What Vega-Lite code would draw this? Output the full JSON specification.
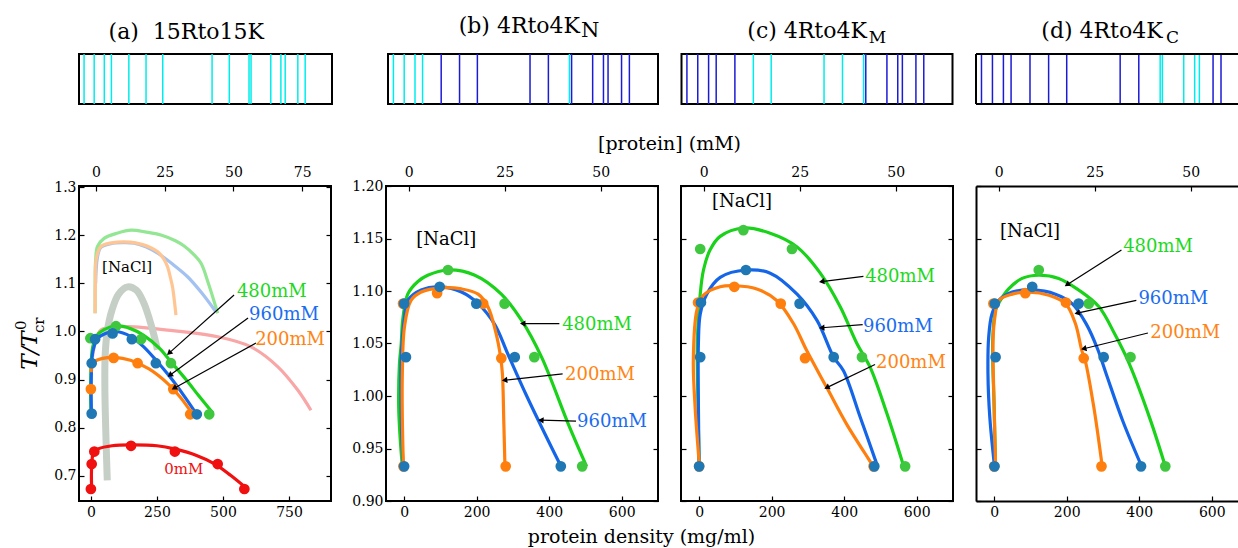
{
 "$schema": "https://vega.github.io/schema/vega-lite/v6.json",
 "background": "#ffffff",
 "padding": {"left": 13, "top": 14, "right": 0, "bottom": 0},
 "config": {
  "font": "DejaVu Serif",
  "view": {"stroke": "#000000", "strokeWidth": 2},
  "axis": {"grid": false, "domain": false, "labelFont": "DejaVu Serif", "labelFontSize": 14, "labelColor": "#000000", "tickColor": "#000000", "tickWidth": 1.2, "tickSize": -5, "labelFlush": false, "labelOverlap": false, "titleFont": "DejaVu Serif", "titleFontWeight": "normal", "titleColor": "#000000"}
 },
 "datasets": {
  "strips": [
   {"strip":"a","pos":0.020,"res":"K"},{"strip":"a","pos":0.060,"res":"K"},{"strip":"a","pos":0.100,"res":"K"},{"strip":"a","pos":0.128,"res":"K"},{"strip":"a","pos":0.197,"res":"K"},{"strip":"a","pos":0.265,"res":"K"},{"strip":"a","pos":0.331,"res":"K"},{"strip":"a","pos":0.526,"res":"K"},{"strip":"a","pos":0.594,"res":"K"},{"strip":"a","pos":0.672,"res":"K"},{"strip":"a","pos":0.680,"res":"K"},{"strip":"a","pos":0.758,"res":"K"},{"strip":"a","pos":0.798,"res":"K"},{"strip":"a","pos":0.815,"res":"K"},{"strip":"a","pos":0.865,"res":"K"},{"strip":"a","pos":0.894,"res":"K"},
   {"strip":"b","pos":0.020,"res":"K"},{"strip":"b","pos":0.060,"res":"K"},{"strip":"b","pos":0.100,"res":"K"},{"strip":"b","pos":0.128,"res":"K"},{"strip":"b","pos":0.197,"res":"R"},{"strip":"b","pos":0.265,"res":"R"},{"strip":"b","pos":0.331,"res":"R"},{"strip":"b","pos":0.526,"res":"R"},{"strip":"b","pos":0.594,"res":"R"},{"strip":"b","pos":0.672,"res":"K"},{"strip":"b","pos":0.680,"res":"R"},{"strip":"b","pos":0.758,"res":"R"},{"strip":"b","pos":0.798,"res":"R"},{"strip":"b","pos":0.815,"res":"R"},{"strip":"b","pos":0.865,"res":"R"},{"strip":"b","pos":0.894,"res":"R"},
   {"strip":"c","pos":0.020,"res":"R"},{"strip":"c","pos":0.060,"res":"R"},{"strip":"c","pos":0.100,"res":"R"},{"strip":"c","pos":0.128,"res":"R"},{"strip":"c","pos":0.197,"res":"R"},{"strip":"c","pos":0.265,"res":"K"},{"strip":"c","pos":0.331,"res":"K"},{"strip":"c","pos":0.526,"res":"K"},{"strip":"c","pos":0.594,"res":"K"},{"strip":"c","pos":0.672,"res":"K"},{"strip":"c","pos":0.680,"res":"R"},{"strip":"c","pos":0.758,"res":"R"},{"strip":"c","pos":0.798,"res":"R"},{"strip":"c","pos":0.815,"res":"R"},{"strip":"c","pos":0.865,"res":"R"},{"strip":"c","pos":0.894,"res":"R"},
   {"strip":"d","pos":0.020,"res":"R"},{"strip":"d","pos":0.060,"res":"R"},{"strip":"d","pos":0.100,"res":"R"},{"strip":"d","pos":0.128,"res":"R"},{"strip":"d","pos":0.197,"res":"R"},{"strip":"d","pos":0.265,"res":"R"},{"strip":"d","pos":0.331,"res":"R"},{"strip":"d","pos":0.526,"res":"R"},{"strip":"d","pos":0.594,"res":"R"},{"strip":"d","pos":0.672,"res":"K"},{"strip":"d","pos":0.680,"res":"K"},{"strip":"d","pos":0.758,"res":"K"},{"strip":"d","pos":0.798,"res":"K"},{"strip":"d","pos":0.815,"res":"K"},{"strip":"d","pos":0.865,"res":"R"},{"strip":"d","pos":0.894,"res":"R"}
  ],
  "titles": [
   {"strip":"a","part":"main","t":"(a)\u00a0 15Rto15K","x":0.731,"y":1.30},
   {"strip":"b","part":"main","t":"(b) 4Rto4K","x":0.711,"y":1.42},
   {"strip":"b","part":"sub","t":"N","x":0.715,"y":1.34},
   {"strip":"c","part":"main","t":"(c) 4Rto4K","x":0.684,"y":1.32},
   {"strip":"c","part":"sub","t":"M","x":0.691,"y":1.22},
   {"strip":"d","part":"main","t":"(d) 4Rto4K","x":0.681,"y":1.32},
   {"strip":"d","part":"sub","t":"C","x":0.693,"y":1.22}
  ],
  "edges": [{"v":0},{"v":1}],
  "mm": [{"mM":0}],
  "ylab": [{"t":"0","x":-264,"y":1.013},{"t":"cr","x":-196,"y":1.013}],
  "faded": [
   {"s":"480mM","i":1,"x":16,"y":1.038},{"s":"480mM","i":2,"x":16,"y":1.10},{"s":"480mM","i":3,"x":18,"y":1.149},{"s":"480mM","i":4,"x":25,"y":1.177},{"s":"480mM","i":5,"x":50,"y":1.194},{"s":"480mM","i":6,"x":101,"y":1.205},{"s":"480mM","i":7,"x":152,"y":1.211},{"s":"480mM","i":8,"x":210,"y":1.207},{"s":"480mM","i":9,"x":265,"y":1.201},{"s":"480mM","i":10,"x":320,"y":1.189},{"s":"480mM","i":11,"x":353,"y":1.178},{"s":"480mM","i":12,"x":390,"y":1.16},{"s":"480mM","i":13,"x":417,"y":1.142},{"s":"480mM","i":14,"x":445,"y":1.10},{"s":"480mM","i":15,"x":480,"y":1.038},
   {"s":"960mM","i":1,"x":18,"y":1.10},{"s":"960mM","i":2,"x":25,"y":1.155},{"s":"960mM","i":3,"x":38,"y":1.175},{"s":"960mM","i":4,"x":76,"y":1.183},{"s":"960mM","i":5,"x":120,"y":1.185},{"s":"960mM","i":6,"x":164,"y":1.184},{"s":"960mM","i":7,"x":210,"y":1.176},{"s":"960mM","i":8,"x":253,"y":1.163},{"s":"960mM","i":9,"x":310,"y":1.14},{"s":"960mM","i":10,"x":366,"y":1.114},{"s":"960mM","i":11,"x":420,"y":1.08},{"s":"960mM","i":12,"x":473,"y":1.041},
   {"s":"200mM","i":1,"x":16,"y":1.038},{"s":"200mM","i":2,"x":17,"y":1.10},{"s":"200mM","i":3,"x":20,"y":1.15},{"s":"200mM","i":4,"x":38,"y":1.177},{"s":"200mM","i":5,"x":101,"y":1.186},{"s":"200mM","i":6,"x":150,"y":1.186},{"s":"200mM","i":7,"x":189,"y":1.182},{"s":"200mM","i":8,"x":225,"y":1.175},{"s":"200mM","i":9,"x":253,"y":1.166},{"s":"200mM","i":10,"x":275,"y":1.152},{"s":"200mM","i":11,"x":290,"y":1.135},{"s":"200mM","i":12,"x":302,"y":1.11},{"s":"200mM","i":13,"x":309,"y":1.093},{"s":"200mM","i":14,"x":322,"y":1.034},
   {"s":"0mM","i":1,"x":6,"y":0.948},{"s":"0mM","i":2,"x":19,"y":0.982},{"s":"0mM","i":3,"x":38,"y":1.003},{"s":"0mM","i":4,"x":80,"y":1.009},{"s":"0mM","i":5,"x":139,"y":1.01},{"s":"0mM","i":6,"x":290,"y":1.003},{"s":"0mM","i":7,"x":480,"y":0.989},{"s":"0mM","i":8,"x":606,"y":0.968},{"s":"0mM","i":9,"x":707,"y":0.927},{"s":"0mM","i":10,"x":783,"y":0.878},{"s":"0mM","i":11,"x":833,"y":0.836},
   {"s":"gray","i":1,"x":62,"y":0.69},{"s":"gray","i":2,"x":57,"y":0.78},{"s":"gray","i":3,"x":53,"y":0.88},{"s":"gray","i":4,"x":54,"y":0.95},{"s":"gray","i":5,"x":62,"y":1.0},{"s":"gray","i":6,"x":80,"y":1.045},{"s":"gray","i":7,"x":105,"y":1.078},{"s":"gray","i":8,"x":139,"y":1.093},{"s":"gray","i":9,"x":172,"y":1.086},{"s":"gray","i":10,"x":200,"y":1.06},{"s":"gray","i":11,"x":222,"y":1.025},{"s":"gray","i":12,"x":240,"y":0.99},{"s":"gray","i":13,"x":252,"y":0.962}
  ],
  "curves": [
   {"p":"a","s":"480mM","i":1,"x":0,"y":0.83},{"p":"a","s":"480mM","i":2,"x":-1,"y":0.88},{"p":"a","s":"480mM","i":3,"x":1,"y":0.93},{"p":"a","s":"480mM","i":4,"x":6,"y":0.965},{"p":"a","s":"480mM","i":5,"x":20,"y":0.99},{"p":"a","s":"480mM","i":6,"x":50,"y":1.004},{"p":"a","s":"480mM","i":7,"x":95,"y":1.012},{"p":"a","s":"480mM","i":8,"x":150,"y":1.006},{"p":"a","s":"480mM","i":9,"x":200,"y":0.992},{"p":"a","s":"480mM","i":10,"x":260,"y":0.965},{"p":"a","s":"480mM","i":11,"x":303,"y":0.937},{"p":"a","s":"480mM","i":12,"x":360,"y":0.9},{"p":"a","s":"480mM","i":13,"x":410,"y":0.865},{"p":"a","s":"480mM","i":14,"x":462,"y":0.83},
   {"p":"a","s":"960mM","i":1,"x":2,"y":0.83},{"p":"a","s":"960mM","i":2,"x":1,"y":0.88},{"p":"a","s":"960mM","i":3,"x":3,"y":0.93},{"p":"a","s":"960mM","i":4,"x":8,"y":0.96},{"p":"a","s":"960mM","i":5,"x":25,"y":0.985},{"p":"a","s":"960mM","i":6,"x":60,"y":0.997},{"p":"a","s":"960mM","i":7,"x":95,"y":1.0},{"p":"a","s":"960mM","i":8,"x":150,"y":0.99},{"p":"a","s":"960mM","i":9,"x":200,"y":0.968},{"p":"a","s":"960mM","i":10,"x":250,"y":0.938},{"p":"a","s":"960mM","i":11,"x":300,"y":0.905},{"p":"a","s":"960mM","i":12,"x":350,"y":0.868},{"p":"a","s":"960mM","i":13,"x":400,"y":0.828},
   {"p":"a","s":"200mM","i":1,"x":1,"y":0.915},{"p":"a","s":"200mM","i":2,"x":4,"y":0.93},{"p":"a","s":"200mM","i":3,"x":15,"y":0.938},{"p":"a","s":"200mM","i":4,"x":45,"y":0.944},{"p":"a","s":"200mM","i":5,"x":90,"y":0.946},{"p":"a","s":"200mM","i":6,"x":150,"y":0.94},{"p":"a","s":"200mM","i":7,"x":220,"y":0.922},{"p":"a","s":"200mM","i":8,"x":290,"y":0.892},{"p":"a","s":"200mM","i":9,"x":340,"y":0.862},{"p":"a","s":"200mM","i":10,"x":385,"y":0.828},
   {"p":"a","s":"0mM","i":1,"x":3,"y":0.672},{"p":"a","s":"0mM","i":2,"x":2,"y":0.7},{"p":"a","s":"0mM","i":3,"x":4,"y":0.73},{"p":"a","s":"0mM","i":4,"x":10,"y":0.748},{"p":"a","s":"0mM","i":5,"x":30,"y":0.756},{"p":"a","s":"0mM","i":6,"x":80,"y":0.762},{"p":"a","s":"0mM","i":7,"x":150,"y":0.764},{"p":"a","s":"0mM","i":8,"x":250,"y":0.762},{"p":"a","s":"0mM","i":9,"x":320,"y":0.755},{"p":"a","s":"0mM","i":10,"x":400,"y":0.742},{"p":"a","s":"0mM","i":11,"x":470,"y":0.724},{"p":"a","s":"0mM","i":12,"x":530,"y":0.7},{"p":"a","s":"0mM","i":13,"x":590,"y":0.673},
   {"p":"b","s":"480mM","i":1,"x":-5,"y":0.933},{"p":"b","s":"480mM","i":2,"x":-11,"y":0.96},{"p":"b","s":"480mM","i":3,"x":-15,"y":0.99},{"p":"b","s":"480mM","i":4,"x":-13,"y":1.03},{"p":"b","s":"480mM","i":5,"x":-8,"y":1.05},{"p":"b","s":"480mM","i":6,"x":-4,"y":1.072},{"p":"b","s":"480mM","i":7,"x":10,"y":1.097},{"p":"b","s":"480mM","i":8,"x":38,"y":1.109},{"p":"b","s":"480mM","i":9,"x":65,"y":1.115},{"p":"b","s":"480mM","i":10,"x":121,"y":1.12},{"p":"b","s":"480mM","i":11,"x":195,"y":1.115},{"p":"b","s":"480mM","i":12,"x":268,"y":1.097},{"p":"b","s":"480mM","i":13,"x":324,"y":1.072},{"p":"b","s":"480mM","i":14,"x":379,"y":1.037},{"p":"b","s":"480mM","i":15,"x":453,"y":0.973},{"p":"b","s":"480mM","i":16,"x":503,"y":0.933},
   {"p":"b","s":"960mM","i":1,"x":-3,"y":0.933},{"p":"b","s":"960mM","i":2,"x":-8,"y":0.98},{"p":"b","s":"960mM","i":3,"x":-8,"y":1.037},{"p":"b","s":"960mM","i":4,"x":1,"y":1.075},{"p":"b","s":"960mM","i":5,"x":10,"y":1.091},{"p":"b","s":"960mM","i":6,"x":47,"y":1.101},{"p":"b","s":"960mM","i":7,"x":102,"y":1.104},{"p":"b","s":"960mM","i":8,"x":158,"y":1.099},{"p":"b","s":"960mM","i":9,"x":204,"y":1.088},{"p":"b","s":"960mM","i":10,"x":250,"y":1.068},{"p":"b","s":"960mM","i":11,"x":286,"y":1.04},{"p":"b","s":"960mM","i":12,"x":338,"y":1.0},{"p":"b","s":"960mM","i":13,"x":408,"y":0.95},{"p":"b","s":"960mM","i":14,"x":437,"y":0.93},
   {"p":"b","s":"200mM","i":1,"x":-2,"y":0.933},{"p":"b","s":"200mM","i":2,"x":-5,"y":0.98},{"p":"b","s":"200mM","i":3,"x":-5,"y":1.021},{"p":"b","s":"200mM","i":4,"x":1,"y":1.066},{"p":"b","s":"200mM","i":5,"x":19,"y":1.091},{"p":"b","s":"200mM","i":6,"x":47,"y":1.099},{"p":"b","s":"200mM","i":7,"x":102,"y":1.103},{"p":"b","s":"200mM","i":8,"x":158,"y":1.102},{"p":"b","s":"200mM","i":9,"x":204,"y":1.097},{"p":"b","s":"200mM","i":10,"x":231,"y":1.085},{"p":"b","s":"200mM","i":11,"x":254,"y":1.059},{"p":"b","s":"200mM","i":12,"x":266,"y":1.037},{"p":"b","s":"200mM","i":13,"x":271,"y":1.021},{"p":"b","s":"200mM","i":14,"x":275,"y":0.973},{"p":"b","s":"200mM","i":15,"x":278,"y":0.933},
   {"p":"c","s":"480mM","i":1,"x":0,"y":0.933},{"p":"c","s":"480mM","i":2,"x":-3,"y":0.99},{"p":"c","s":"480mM","i":3,"x":-5,"y":1.053},{"p":"c","s":"480mM","i":4,"x":3,"y":1.097},{"p":"c","s":"480mM","i":5,"x":12,"y":1.12},{"p":"c","s":"480mM","i":6,"x":30,"y":1.139},{"p":"c","s":"480mM","i":7,"x":58,"y":1.152},{"p":"c","s":"480mM","i":8,"x":122,"y":1.16},{"p":"c","s":"480mM","i":9,"x":196,"y":1.155},{"p":"c","s":"480mM","i":10,"x":270,"y":1.142},{"p":"c","s":"480mM","i":11,"x":334,"y":1.117},{"p":"c","s":"480mM","i":12,"x":389,"y":1.085},{"p":"c","s":"480mM","i":13,"x":435,"y":1.05},{"p":"c","s":"480mM","i":14,"x":472,"y":1.027},{"p":"c","s":"480mM","i":15,"x":518,"y":0.983},{"p":"c","s":"480mM","i":16,"x":564,"y":0.933},
   {"p":"c","s":"960mM","i":1,"x":0,"y":0.933},{"p":"c","s":"960mM","i":2,"x":-2,"y":0.99},{"p":"c","s":"960mM","i":3,"x":-2,"y":1.05},{"p":"c","s":"960mM","i":4,"x":3,"y":1.078},{"p":"c","s":"960mM","i":5,"x":21,"y":1.097},{"p":"c","s":"960mM","i":6,"x":58,"y":1.113},{"p":"c","s":"960mM","i":7,"x":130,"y":1.12},{"p":"c","s":"960mM","i":8,"x":196,"y":1.117},{"p":"c","s":"960mM","i":9,"x":270,"y":1.097},{"p":"c","s":"960mM","i":10,"x":325,"y":1.072},{"p":"c","s":"960mM","i":11,"x":371,"y":1.037},{"p":"c","s":"960mM","i":12,"x":398,"y":1.024},{"p":"c","s":"960mM","i":13,"x":444,"y":0.98},{"p":"c","s":"960mM","i":14,"x":492,"y":0.933},
   {"p":"c","s":"200mM","i":1,"x":1,"y":0.933},{"p":"c","s":"200mM","i":2,"x":-11,"y":0.989},{"p":"c","s":"200mM","i":3,"x":-16,"y":1.034},{"p":"c","s":"200mM","i":4,"x":-6,"y":1.082},{"p":"c","s":"200mM","i":5,"x":12,"y":1.096},{"p":"c","s":"200mM","i":6,"x":58,"y":1.104},{"p":"c","s":"200mM","i":7,"x":99,"y":1.105},{"p":"c","s":"200mM","i":8,"x":159,"y":1.102},{"p":"c","s":"200mM","i":9,"x":214,"y":1.091},{"p":"c","s":"200mM","i":10,"x":260,"y":1.069},{"p":"c","s":"200mM","i":11,"x":297,"y":1.043},{"p":"c","s":"200mM","i":12,"x":352,"y":1.008},{"p":"c","s":"200mM","i":13,"x":407,"y":0.973},{"p":"c","s":"200mM","i":14,"x":458,"y":0.945},{"p":"c","s":"200mM","i":15,"x":486,"y":0.93},
   {"p":"d","s":"480mM","i":1,"x":4,"y":0.933},{"p":"d","s":"480mM","i":2,"x":0,"y":0.99},{"p":"d","s":"480mM","i":3,"x":-4,"y":1.053},{"p":"d","s":"480mM","i":4,"x":4,"y":1.082},{"p":"d","s":"480mM","i":5,"x":17,"y":1.091},{"p":"d","s":"480mM","i":6,"x":40,"y":1.102},{"p":"d","s":"480mM","i":7,"x":77,"y":1.112},{"p":"d","s":"480mM","i":8,"x":123,"y":1.115},{"p":"d","s":"480mM","i":9,"x":178,"y":1.112},{"p":"d","s":"480mM","i":10,"x":233,"y":1.101},{"p":"d","s":"480mM","i":11,"x":289,"y":1.085},{"p":"d","s":"480mM","i":12,"x":334,"y":1.058},{"p":"d","s":"480mM","i":13,"x":371,"y":1.032},{"p":"d","s":"480mM","i":14,"x":430,"y":0.978},{"p":"d","s":"480mM","i":15,"x":472,"y":0.933},
   {"p":"d","s":"960mM","i":1,"x":1,"y":0.933},{"p":"d","s":"960mM","i":2,"x":-12,"y":0.98},{"p":"d","s":"960mM","i":3,"x":-17,"y":1.021},{"p":"d","s":"960mM","i":4,"x":-15,"y":1.056},{"p":"d","s":"960mM","i":5,"x":-6,"y":1.078},{"p":"d","s":"960mM","i":6,"x":13,"y":1.091},{"p":"d","s":"960mM","i":7,"x":50,"y":1.099},{"p":"d","s":"960mM","i":8,"x":105,"y":1.101},{"p":"d","s":"960mM","i":9,"x":169,"y":1.097},{"p":"d","s":"960mM","i":10,"x":215,"y":1.088},{"p":"d","s":"960mM","i":11,"x":255,"y":1.068},{"p":"d","s":"960mM","i":12,"x":285,"y":1.045},{"p":"d","s":"960mM","i":13,"x":310,"y":1.02},{"p":"d","s":"960mM","i":14,"x":355,"y":0.976},{"p":"d","s":"960mM","i":15,"x":408,"y":0.932},
   {"p":"d","s":"200mM","i":1,"x":4,"y":0.933},{"p":"d","s":"200mM","i":2,"x":0,"y":0.99},{"p":"d","s":"200mM","i":3,"x":-3,"y":1.053},{"p":"d","s":"200mM","i":4,"x":2,"y":1.075},{"p":"d","s":"200mM","i":5,"x":13,"y":1.091},{"p":"d","s":"200mM","i":6,"x":50,"y":1.097},{"p":"d","s":"200mM","i":7,"x":96,"y":1.099},{"p":"d","s":"200mM","i":8,"x":151,"y":1.096},{"p":"d","s":"200mM","i":9,"x":197,"y":1.088},{"p":"d","s":"200mM","i":10,"x":224,"y":1.069},{"p":"d","s":"200mM","i":11,"x":242,"y":1.043},{"p":"d","s":"200mM","i":12,"x":251,"y":1.034},{"p":"d","s":"200mM","i":13,"x":275,"y":0.989},{"p":"d","s":"200mM","i":14,"x":298,"y":0.933}
  ],
  "points": [
   {"p":"a","s":"200mM","x":0,"y":0.88},{"p":"a","s":"200mM","x":86,"y":0.945},{"p":"a","s":"200mM","x":177,"y":0.934},{"p":"a","s":"200mM","x":312,"y":0.88},{"p":"a","s":"200mM","x":376,"y":0.8275},
   {"p":"a","s":"480mM","x":-2,"y":0.986},{"p":"a","s":"480mM","x":95,"y":1.011},{"p":"a","s":"480mM","x":190,"y":0.984},{"p":"a","s":"480mM","x":303,"y":0.934},{"p":"a","s":"480mM","x":448,"y":0.8275},
   {"p":"a","s":"960mM","x":3,"y":0.829},{"p":"a","s":"960mM","x":3,"y":0.934},{"p":"a","s":"960mM","x":16,"y":0.984},{"p":"a","s":"960mM","x":82,"y":0.996},{"p":"a","s":"960mM","x":155,"y":0.984},{"p":"a","s":"960mM","x":246,"y":0.934},{"p":"a","s":"960mM","x":401,"y":0.8275},
   {"p":"a","s":"0mM","x":0,"y":0.672},{"p":"a","s":"0mM","x":3,"y":0.724},{"p":"a","s":"0mM","x":13,"y":0.75},{"p":"a","s":"0mM","x":152,"y":0.762},{"p":"a","s":"0mM","x":318,"y":0.75},{"p":"a","s":"0mM","x":480,"y":0.724},{"p":"a","s":"0mM","x":581,"y":0.672},
   {"p":"b","s":"200mM","x":-3,"y":1.088},{"p":"b","s":"200mM","x":91,"y":1.098},{"p":"b","s":"200mM","x":218,"y":1.088},{"p":"b","s":"200mM","x":268,"y":1.036},{"p":"b","s":"200mM","x":280,"y":0.933},{"p":"b","s":"200mM","x":-2,"y":0.933},
   {"p":"b","s":"480mM","x":121,"y":1.12},{"p":"b","s":"480mM","x":277,"y":1.088},{"p":"b","s":"480mM","x":359,"y":1.037},{"p":"b","s":"480mM","x":491,"y":0.933},
   {"p":"b","s":"960mM","x":0,"y":1.088},{"p":"b","s":"960mM","x":98,"y":1.104},{"p":"b","s":"960mM","x":199,"y":1.088},{"p":"b","s":"960mM","x":305,"y":1.037},{"p":"b","s":"960mM","x":432,"y":0.933},{"p":"b","s":"960mM","x":5,"y":1.037},{"p":"b","s":"960mM","x":0,"y":0.933},
   {"p":"c","s":"200mM","x":-3,"y":1.089},{"p":"c","s":"200mM","x":97,"y":1.104},{"p":"c","s":"200mM","x":225,"y":1.088},{"p":"c","s":"200mM","x":292,"y":1.036},{"p":"c","s":"200mM","x":481,"y":0.933},{"p":"c","s":"200mM","x":0,"y":0.933},
   {"p":"c","s":"480mM","x":3,"y":1.14},{"p":"c","s":"480mM","x":122,"y":1.158},{"p":"c","s":"480mM","x":256,"y":1.14},{"p":"c","s":"480mM","x":449,"y":1.037},{"p":"c","s":"480mM","x":568,"y":0.933},
   {"p":"c","s":"960mM","x":5,"y":1.089},{"p":"c","s":"960mM","x":129,"y":1.12},{"p":"c","s":"960mM","x":277,"y":1.088},{"p":"c","s":"960mM","x":371,"y":1.037},{"p":"c","s":"960mM","x":483,"y":0.933},{"p":"c","s":"960mM","x":3,"y":1.037},{"p":"c","s":"960mM","x":0,"y":0.933},
   {"p":"d","s":"200mM","x":-2,"y":1.088},{"p":"d","s":"200mM","x":86,"y":1.098},{"p":"d","s":"200mM","x":198,"y":1.089},{"p":"d","s":"200mM","x":247,"y":1.036},{"p":"d","s":"200mM","x":296,"y":0.933},{"p":"d","s":"200mM","x":0,"y":0.933},
   {"p":"d","s":"480mM","x":123,"y":1.12},{"p":"d","s":"480mM","x":261,"y":1.088},{"p":"d","s":"480mM","x":376,"y":1.037},{"p":"d","s":"480mM","x":472,"y":0.933},
   {"p":"d","s":"960mM","x":2,"y":1.088},{"p":"d","s":"960mM","x":105,"y":1.104},{"p":"d","s":"960mM","x":233,"y":1.088},{"p":"d","s":"960mM","x":302,"y":1.037},{"p":"d","s":"960mM","x":405,"y":0.933},{"p":"d","s":"960mM","x":4,"y":1.037},{"p":"d","s":"960mM","x":1,"y":0.933}
  ],
  "labels": [
   {"p":"a","s":"480mM","t":"480mM","x":685,"y":1.082},{"p":"a","s":"960mM","t":"960mM","x":731,"y":1.034},{"p":"a","s":"200mM","t":"200mM","x":754,"y":0.982},{"p":"a","s":"0mM","t":"0mM","x":352,"y":0.713},{"p":"a","s":"NaCl","t":"[NaCl]","x":137,"y":1.134},
   {"p":"b","s":"480mM","t":"480mM","x":532,"y":1.068},{"p":"b","s":"200mM","t":"200mM","x":540,"y":1.020},{"p":"b","s":"960mM","t":"960mM","x":573,"y":0.975},{"p":"b","s":"NaCl","t":"[NaCl]","x":116,"y":1.149},
   {"p":"c","s":"480mM","t":"480mM","x":554,"y":1.113},{"p":"c","s":"960mM","t":"960mM","x":548,"y":1.066},{"p":"c","s":"200mM","t":"200mM","x":584,"y":1.031},{"p":"c","s":"NaCl","t":"[NaCl]","x":118,"y":1.185},
   {"p":"d","s":"480mM","t":"480mM","x":452,"y":1.142},{"p":"d","s":"960mM","t":"960mM","x":494,"y":1.092},{"p":"d","s":"200mM","t":"200mM","x":527,"y":1.060},{"p":"d","s":"NaCl","t":"[NaCl]","x":99,"y":1.156}
  ],
  "arrows": [
   {"p":"a","id":"480mM","x":542,"y":1.076,"x2":296,"y2":0.955,"heading":228},
   {"p":"a","id":"960mM","x":595,"y":1.028,"x2":299,"y2":0.909,"heading":234},
   {"p":"a","id":"200mM","x":625,"y":0.976,"x2":315,"y2":0.882,"heading":241},
   {"p":"b","id":"480mM","x":428,"y":1.069,"x2":327,"y2":1.069,"heading":270},
   {"p":"b","id":"200mM","x":437,"y":1.021,"x2":277,"y2":1.015,"heading":264},
   {"p":"b","id":"960mM","x":474,"y":0.976,"x2":377,"y2":0.977,"heading":273},
   {"p":"c","id":"480mM","x":453,"y":1.114,"x2":338,"y2":1.109,"heading":263},
   {"p":"c","id":"960mM","x":451,"y":1.068,"x2":338,"y2":1.065,"heading":267},
   {"p":"c","id":"200mM","x":485,"y":1.030,"x2":352,"y2":1.008,"heading":244},
   {"p":"d","id":"480mM","x":351,"y":1.139,"x2":201,"y2":1.106,"heading":237},
   {"p":"d","id":"960mM","x":392,"y":1.091,"x2":229,"y2":1.079,"heading":257},
   {"p":"d","id":"200mM","x":424,"y":1.060,"x2":247,"y2":1.045,"heading":257}
  ]
 },
 "spacing": 132,
 "bounds": "flush",
 "vconcat": [
  {
   "spacing": 56, "bounds": "flush",
   "hconcat": [
    {
     "width": 253, "height": 50,
     "layer": [
      {"data": {"name": "strips"}, "transform": [{"filter": "datum.strip === 'a'"}],
       "mark": {"type": "rule", "strokeWidth": 1.5},
       "encoding": {"x": {"field": "pos", "type": "quantitative", "scale": {"domain": [0, 1], "nice": false, "zero": false}, "axis": null},
        "color": {"field": "res", "type": "nominal", "scale": {"domain": ["K", "R"], "range": ["#00ecec", "#1b1bd4"]}, "legend": null}}},
      {"data": {"name": "titles"}, "transform": [{"filter": "datum.strip === 'a'"}],
       "mark": {"type": "text", "align": "right", "baseline": "alphabetic", "fontSize": 22, "color": "#000000"},
       "encoding": {"x": {"field": "x", "type": "quantitative", "scale": {"domain": [0, 1], "nice": false, "zero": false}, "axis": null},
        "y": {"field": "y", "type": "quantitative", "scale": {"domain": [0, 1], "nice": false, "zero": false}, "axis": null},
        "text": {"field": "t", "type": "nominal"}}}
     ]
    },
    {
     "spacing": 23.5, "bounds": "flush",
     "hconcat": [
      {
       "width": 270, "height": 50,
       "layer": [
        {"data": {"name": "strips"}, "transform": [{"filter": "datum.strip === 'b'"}],
         "mark": {"type": "rule", "strokeWidth": 1.5},
         "encoding": {"x": {"field": "pos", "type": "quantitative", "scale": {"domain": [0, 1], "nice": false, "zero": false}, "axis": null},
          "color": {"field": "res", "type": "nominal", "scale": {"domain": ["K", "R"], "range": ["#00ecec", "#1b1bd4"]}, "legend": null}}},
        {"data": {"name": "titles"}, "transform": [{"filter": "datum.strip === 'b' && datum.part === 'main'"}],
         "mark": {"type": "text", "align": "right", "baseline": "alphabetic", "fontSize": 22, "color": "#000000"},
         "encoding": {"x": {"field": "x", "type": "quantitative", "scale": {"domain": [0, 1], "nice": false, "zero": false}, "axis": null},
          "y": {"field": "y", "type": "quantitative", "scale": {"domain": [0, 1], "nice": false, "zero": false}, "axis": null},
          "text": {"field": "t", "type": "nominal"}}},
        {"data": {"name": "titles"}, "transform": [{"filter": "datum.strip === 'b' && datum.part === 'sub'"}],
         "mark": {"type": "text", "align": "left", "baseline": "alphabetic", "fontSize": 21, "color": "#000000"},
         "encoding": {"x": {"field": "x", "type": "quantitative", "scale": {"domain": [0, 1], "nice": false, "zero": false}, "axis": null},
          "y": {"field": "y", "type": "quantitative", "scale": {"domain": [0, 1], "nice": false, "zero": false}, "axis": null},
          "text": {"field": "t", "type": "nominal"}}}
       ]
      },
      {
       "width": 271, "height": 50,
       "layer": [
        {"data": {"name": "strips"}, "transform": [{"filter": "datum.strip === 'c'"}],
         "mark": {"type": "rule", "strokeWidth": 1.5},
         "encoding": {"x": {"field": "pos", "type": "quantitative", "scale": {"domain": [0, 1], "nice": false, "zero": false}, "axis": null},
          "color": {"field": "res", "type": "nominal", "scale": {"domain": ["K", "R"], "range": ["#00ecec", "#1b1bd4"]}, "legend": null}}},
        {"data": {"name": "titles"}, "transform": [{"filter": "datum.strip === 'c' && datum.part === 'main'"}],
         "mark": {"type": "text", "align": "right", "baseline": "alphabetic", "fontSize": 22, "color": "#000000"},
         "encoding": {"x": {"field": "x", "type": "quantitative", "scale": {"domain": [0, 1], "nice": false, "zero": false}, "axis": null},
          "y": {"field": "y", "type": "quantitative", "scale": {"domain": [0, 1], "nice": false, "zero": false}, "axis": null},
          "text": {"field": "t", "type": "nominal"}}},
        {"data": {"name": "titles"}, "transform": [{"filter": "datum.strip === 'c' && datum.part === 'sub'"}],
         "mark": {"type": "text", "align": "left", "baseline": "alphabetic", "fontSize": 17, "color": "#000000"},
         "encoding": {"x": {"field": "x", "type": "quantitative", "scale": {"domain": [0, 1], "nice": false, "zero": false}, "axis": null},
          "y": {"field": "y", "type": "quantitative", "scale": {"domain": [0, 1], "nice": false, "zero": false}, "axis": null},
          "text": {"field": "t", "type": "nominal"}}}
       ]
      },
      {
       "width": 262, "height": 50,
       "view": {"stroke": null},
       "layer": [
        {"data": {"name": "strips"}, "transform": [{"filter": "datum.strip === 'd'"}],
         "mark": {"type": "rule", "strokeWidth": 1.5},
         "encoding": {"x": {"field": "pos", "type": "quantitative", "scale": {"domain": [0, 0.956], "nice": false, "zero": false}, "axis": null},
          "color": {"field": "res", "type": "nominal", "scale": {"domain": ["K", "R"], "range": ["#00ecec", "#1b1bd4"]}, "legend": null}}},
        {"data": {"name": "edges"},
         "mark": {"type": "rule", "strokeWidth": 2, "color": "#000000"},
         "encoding": {"y": {"field": "v", "type": "quantitative", "scale": {"domain": [0, 1], "nice": false, "zero": false}, "axis": null}}},
        {"data": {"name": "edges"}, "transform": [{"filter": "datum.v === 0"}],
         "mark": {"type": "rule", "strokeWidth": 2, "color": "#000000"},
         "encoding": {"x": {"field": "v", "type": "quantitative", "scale": {"domain": [0, 0.956], "nice": false, "zero": false}, "axis": null}}},
        {"data": {"name": "titles"}, "transform": [{"filter": "datum.strip === 'd' && datum.part === 'main'"}],
         "mark": {"type": "text", "align": "right", "baseline": "alphabetic", "fontSize": 22, "color": "#000000"},
         "encoding": {"x": {"field": "x", "type": "quantitative", "scale": {"domain": [0, 0.956], "nice": false, "zero": false}, "axis": null},
          "y": {"field": "y", "type": "quantitative", "scale": {"domain": [0, 1], "nice": false, "zero": false}, "axis": null},
          "text": {"field": "t", "type": "nominal"}}},
        {"data": {"name": "titles"}, "transform": [{"filter": "datum.strip === 'd' && datum.part === 'sub'"}],
         "mark": {"type": "text", "align": "left", "baseline": "alphabetic", "fontSize": 17, "color": "#000000"},
         "encoding": {"x": {"field": "x", "type": "quantitative", "scale": {"domain": [0, 0.956], "nice": false, "zero": false}, "axis": null},
          "y": {"field": "y", "type": "quantitative", "scale": {"domain": [0, 1], "nice": false, "zero": false}, "axis": null},
          "text": {"field": "t", "type": "nominal"}}}
       ]
      }
     ]
    }
   ]
  },
  {
   "spacing": 55, "bounds": "flush",
   "hconcat": [
    {
     "width": 252, "height": 315,
     "layer": [
      {
       "layer": [
        {"data": {"name": "faded"}, "transform": [{"filter": "datum.s !== 'gray'"}],
         "mark": {"type": "line", "interpolate": "catmull-rom", "strokeWidth": 3.2},
         "encoding": {"x": {"field": "x", "type": "quantitative", "scale": {"domain": [-45, 909], "nice": false, "zero": false}, "axis": null},
          "y": {"field": "y", "type": "quantitative", "scale": {"domain": [0.647, 1.303], "nice": false, "zero": false}, "axis": null},
          "order": {"field": "i", "type": "quantitative"},
          "color": {"field": "s", "type": "nominal", "scale": {"domain": ["480mM", "960mM", "200mM", "0mM"], "range": ["#93e693", "#a3c2f2", "#ffc592", "#f8a6a6"]}, "legend": null}}},
        {"data": {"name": "faded"}, "transform": [{"filter": "datum.s === 'gray'"}],
         "mark": {"type": "line", "interpolate": "catmull-rom", "strokeWidth": 7, "color": "#c6cfc6"},
         "encoding": {"x": {"field": "x", "type": "quantitative", "scale": {"domain": [-45, 909], "nice": false, "zero": false}, "axis": null},
          "y": {"field": "y", "type": "quantitative", "scale": {"domain": [0.647, 1.303], "nice": false, "zero": false}, "axis": null},
          "order": {"field": "i", "type": "quantitative"}}},
        {"data": {"name": "curves"}, "transform": [{"filter": "datum.p === 'a'"}],
         "mark": {"type": "line", "interpolate": "catmull-rom", "strokeWidth": 3.2},
         "encoding": {"x": {"field": "x", "type": "quantitative", "scale": {"domain": [-45, 909], "nice": false, "zero": false}, "axis": {"values": [0, 250, 500, 750], "labelPadding": 9, "title": null}},
          "y": {"field": "y", "type": "quantitative", "scale": {"domain": [0.647, 1.303], "nice": false, "zero": false}, "axis": {"values": [0.7, 0.8, 0.9, 1.0, 1.1, 1.2, 1.3], "format": ".1f", "labelPadding": 8, "title": "T/T", "titleFontSize": 23, "titleFontStyle": "italic", "titleAngle": 270, "titleAlign": "center", "titleBaseline": "middle", "titleX": -50, "titleY": 164}},
          "order": {"field": "i", "type": "quantitative"},
          "color": {"field": "s", "type": "nominal", "scale": {"domain": ["480mM", "960mM", "200mM", "0mM"], "range": ["#19d219", "#1565e8", "#ff7f0e", "#f01010"]}, "legend": null}}},
        {"data": {"name": "points"}, "transform": [{"filter": "datum.p === 'a'"}],
         "mark": {"type": "circle", "size": 115, "opacity": 1},
         "encoding": {"x": {"field": "x", "type": "quantitative", "scale": {"domain": [-45, 909], "nice": false, "zero": false}, "axis": null},
          "y": {"field": "y", "type": "quantitative", "scale": {"domain": [0.647, 1.303], "nice": false, "zero": false}, "axis": {"orient": "right", "values": [0.7, 0.8, 0.9, 1.0, 1.1, 1.2, 1.3], "labels": false, "title": null}},
          "color": {"field": "s", "type": "nominal", "scale": {"domain": ["480mM", "960mM", "200mM", "0mM"], "range": ["#3fc83f", "#1f77b4", "#ff7f0e", "#f01010"]}, "legend": null}}},
        {"data": {"name": "labels"}, "transform": [{"filter": "datum.p === 'a' && datum.s !== 'NaCl' && datum.s !== '0mM'"}],
         "mark": {"type": "text", "fontSize": 18},
         "encoding": {"x": {"field": "x", "type": "quantitative", "scale": {"domain": [-45, 909], "nice": false, "zero": false}, "axis": null},
          "y": {"field": "y", "type": "quantitative", "scale": {"domain": [0.647, 1.303], "nice": false, "zero": false}, "axis": null},
          "text": {"field": "t", "type": "nominal"},
          "color": {"field": "s", "type": "nominal", "scale": {"domain": ["480mM", "960mM", "200mM", "0mM", "NaCl"], "range": ["#1ed81e", "#1a6cf0", "#ff8414", "#f01010", "#000000"]}, "legend": null}}},
        {"data": {"name": "labels"}, "transform": [{"filter": "datum.p === 'a' && (datum.s === 'NaCl' || datum.s === '0mM')"}],
         "mark": {"type": "text", "fontSize": 15},
         "encoding": {"x": {"field": "x", "type": "quantitative", "scale": {"domain": [-45, 909], "nice": false, "zero": false}, "axis": null},
          "y": {"field": "y", "type": "quantitative", "scale": {"domain": [0.647, 1.303], "nice": false, "zero": false}, "axis": null},
          "text": {"field": "t", "type": "nominal"},
          "color": {"field": "s", "type": "nominal", "scale": {"domain": ["480mM", "960mM", "200mM", "0mM", "NaCl"], "range": ["#1ed81e", "#1a6cf0", "#ff8414", "#f01010", "#000000"]}, "legend": null}}},
        {"data": {"name": "arrows"}, "transform": [{"filter": "datum.p === 'a'"}],
         "mark": {"type": "rule", "strokeWidth": 1.2, "color": "#000000"},
         "encoding": {"x": {"field": "x", "type": "quantitative", "scale": {"domain": [-45, 909], "nice": false, "zero": false}, "axis": null},
          "y": {"field": "y", "type": "quantitative", "scale": {"domain": [0.647, 1.303], "nice": false, "zero": false}, "axis": null},
          "x2": {"field": "x2"}, "y2": {"field": "y2"}}},
        {"data": {"name": "arrows"}, "transform": [{"filter": "datum.p === 'a'"}],
         "mark": {"type": "point", "shape": "triangle-up", "filled": true, "size": 40, "color": "#000000", "opacity": 1},
         "encoding": {"x": {"field": "x2", "type": "quantitative", "scale": {"domain": [-45, 909], "nice": false, "zero": false}, "axis": null},
          "y": {"field": "y2", "type": "quantitative", "scale": {"domain": [0.647, 1.303], "nice": false, "zero": false}, "axis": null},
          "angle": {"field": "heading", "type": "quantitative", "scale": null}}},
        {"data": {"name": "ylab"},
         "mark": {"type": "text", "fontSize": 15, "angle": 270, "color": "#000000"},
         "encoding": {"x": {"field": "x", "type": "quantitative", "scale": {"domain": [-45, 909], "nice": false, "zero": false}, "axis": null},
          "y": {"field": "y", "type": "quantitative", "scale": {"domain": [0.647, 1.303], "nice": false, "zero": false}, "axis": null},
          "text": {"field": "t", "type": "nominal"}}}
       ],
       "resolve": {"scale": {"color": "independent"}, "axis": {"x": "independent", "y": "independent"}}
      },
      {"data": {"name": "mm"}, "mark": {"type": "point", "opacity": 0},
       "encoding": {"x": {"field": "mM", "type": "quantitative", "scale": {"domain": [-6.2, 85.5], "nice": false, "zero": false}, "axis": {"orient": "top", "values": [0, 25, 50, 75], "labelPadding": 12, "title": null}}}}
     ],
     "resolve": {"scale": {"x": "independent"}}
    },
    {
     "spacing": 23, "bounds": "flush",
     "hconcat": [
      {
       "width": 272, "height": 315,
       "layer": [
        {
         "layer": [
          {"data": {"name": "curves"}, "transform": [{"filter": "datum.p === 'b'"}],
           "mark": {"type": "line", "interpolate": "catmull-rom", "strokeWidth": 3.2},
           "encoding": {"x": {"field": "x", "type": "quantitative", "scale": {"domain": [-50, 700], "nice": false, "zero": false}, "axis": {"values": [0, 200, 400, 600], "labelPadding": 9, "title": "protein density (mg/ml)", "titleFontSize": 19, "titleX": 255, "titleY": 35, "titleAlign": "center", "titleBaseline": "middle"}},
            "y": {"field": "y", "type": "quantitative", "scale": {"domain": [0.9, 1.2], "nice": false, "zero": false}, "axis": {"values": [0.9, 0.95, 1.0, 1.05, 1.1, 1.15, 1.2], "format": ".2f", "labelPadding": 8, "title": null}},
            "order": {"field": "i", "type": "quantitative"},
            "color": {"field": "s", "type": "nominal", "scale": {"domain": ["480mM", "960mM", "200mM", "0mM"], "range": ["#19d219", "#1565e8", "#ff7f0e", "#f01010"]}, "legend": null}}},
          {"data": {"name": "points"}, "transform": [{"filter": "datum.p === 'b'"}],
           "mark": {"type": "circle", "size": 115, "opacity": 1},
           "encoding": {"x": {"field": "x", "type": "quantitative", "scale": {"domain": [-50, 700], "nice": false, "zero": false}, "axis": null},
            "y": {"field": "y", "type": "quantitative", "scale": {"domain": [0.9, 1.2], "nice": false, "zero": false}, "axis": {"orient": "right", "values": [0.9, 0.95, 1.0, 1.05, 1.1, 1.15, 1.2], "labels": false, "title": null}},
            "color": {"field": "s", "type": "nominal", "scale": {"domain": ["480mM", "960mM", "200mM", "0mM"], "range": ["#3fc83f", "#1f77b4", "#ff7f0e", "#f01010"]}, "legend": null}}},
          {"data": {"name": "labels"}, "transform": [{"filter": "datum.p === 'b'"}],
           "mark": {"type": "text", "fontSize": 18},
           "encoding": {"x": {"field": "x", "type": "quantitative", "scale": {"domain": [-50, 700], "nice": false, "zero": false}, "axis": null},
            "y": {"field": "y", "type": "quantitative", "scale": {"domain": [0.9, 1.2], "nice": false, "zero": false}, "axis": null},
            "text": {"field": "t", "type": "nominal"},
            "color": {"field": "s", "type": "nominal", "scale": {"domain": ["480mM", "960mM", "200mM", "0mM", "NaCl"], "range": ["#1ed81e", "#1a6cf0", "#ff8414", "#f01010", "#000000"]}, "legend": null}}},
          {"data": {"name": "arrows"}, "transform": [{"filter": "datum.p === 'b'"}],
           "mark": {"type": "rule", "strokeWidth": 1.2, "color": "#000000"},
           "encoding": {"x": {"field": "x", "type": "quantitative", "scale": {"domain": [-50, 700], "nice": false, "zero": false}, "axis": null},
            "y": {"field": "y", "type": "quantitative", "scale": {"domain": [0.9, 1.2], "nice": false, "zero": false}, "axis": null},
            "x2": {"field": "x2"}, "y2": {"field": "y2"}}},
          {"data": {"name": "arrows"}, "transform": [{"filter": "datum.p === 'b'"}],
           "mark": {"type": "point", "shape": "triangle-up", "filled": true, "size": 40, "color": "#000000", "opacity": 1},
           "encoding": {"x": {"field": "x2", "type": "quantitative", "scale": {"domain": [-50, 700], "nice": false, "zero": false}, "axis": null},
            "y": {"field": "y2", "type": "quantitative", "scale": {"domain": [0.9, 1.2], "nice": false, "zero": false}, "axis": null},
            "angle": {"field": "heading", "type": "quantitative", "scale": null}}}
         ],
         "resolve": {"scale": {"color": "independent"}, "axis": {"x": "independent", "y": "independent"}}
        },
        {"data": {"name": "mm"}, "mark": {"type": "point", "opacity": 0},
         "encoding": {"x": {"field": "mM", "type": "quantitative", "scale": {"domain": [-5.9, 64.9], "nice": false, "zero": false}, "axis": {"orient": "top", "values": [0, 25, 50], "labelPadding": 12, "title": "[protein] (mM)", "titleFontSize": 19, "titleX": 283, "titleY": -43, "titleAlign": "center", "titleBaseline": "middle"}}}}
       ],
       "resolve": {"scale": {"x": "independent"}}
      },
      {
       "width": 272, "height": 315,
       "layer": [
        {
         "layer": [
          {"data": {"name": "curves"}, "transform": [{"filter": "datum.p === 'c'"}],
           "mark": {"type": "line", "interpolate": "catmull-rom", "strokeWidth": 3.2},
           "encoding": {"x": {"field": "x", "type": "quantitative", "scale": {"domain": [-50, 700], "nice": false, "zero": false}, "axis": {"values": [0, 200, 400, 600], "labelPadding": 9, "title": null}},
            "y": {"field": "y", "type": "quantitative", "scale": {"domain": [0.9, 1.2], "nice": false, "zero": false}, "axis": {"values": [0.9, 0.95, 1.0, 1.05, 1.1, 1.15, 1.2], "labels": false, "title": null}},
            "order": {"field": "i", "type": "quantitative"},
            "color": {"field": "s", "type": "nominal", "scale": {"domain": ["480mM", "960mM", "200mM", "0mM"], "range": ["#19d219", "#1565e8", "#ff7f0e", "#f01010"]}, "legend": null}}},
          {"data": {"name": "points"}, "transform": [{"filter": "datum.p === 'c'"}],
           "mark": {"type": "circle", "size": 115, "opacity": 1},
           "encoding": {"x": {"field": "x", "type": "quantitative", "scale": {"domain": [-50, 700], "nice": false, "zero": false}, "axis": null},
            "y": {"field": "y", "type": "quantitative", "scale": {"domain": [0.9, 1.2], "nice": false, "zero": false}, "axis": {"orient": "right", "values": [0.9, 0.95, 1.0, 1.05, 1.1, 1.15, 1.2], "labels": false, "title": null}},
            "color": {"field": "s", "type": "nominal", "scale": {"domain": ["480mM", "960mM", "200mM", "0mM"], "range": ["#3fc83f", "#1f77b4", "#ff7f0e", "#f01010"]}, "legend": null}}},
          {"data": {"name": "labels"}, "transform": [{"filter": "datum.p === 'c'"}],
           "mark": {"type": "text", "fontSize": 18},
           "encoding": {"x": {"field": "x", "type": "quantitative", "scale": {"domain": [-50, 700], "nice": false, "zero": false}, "axis": null},
            "y": {"field": "y", "type": "quantitative", "scale": {"domain": [0.9, 1.2], "nice": false, "zero": false}, "axis": null},
            "text": {"field": "t", "type": "nominal"},
            "color": {"field": "s", "type": "nominal", "scale": {"domain": ["480mM", "960mM", "200mM", "0mM", "NaCl"], "range": ["#1ed81e", "#1a6cf0", "#ff8414", "#f01010", "#000000"]}, "legend": null}}},
          {"data": {"name": "arrows"}, "transform": [{"filter": "datum.p === 'c'"}],
           "mark": {"type": "rule", "strokeWidth": 1.2, "color": "#000000"},
           "encoding": {"x": {"field": "x", "type": "quantitative", "scale": {"domain": [-50, 700], "nice": false, "zero": false}, "axis": null},
            "y": {"field": "y", "type": "quantitative", "scale": {"domain": [0.9, 1.2], "nice": false, "zero": false}, "axis": null},
            "x2": {"field": "x2"}, "y2": {"field": "y2"}}},
          {"data": {"name": "arrows"}, "transform": [{"filter": "datum.p === 'c'"}],
           "mark": {"type": "point", "shape": "triangle-up", "filled": true, "size": 40, "color": "#000000", "opacity": 1},
           "encoding": {"x": {"field": "x2", "type": "quantitative", "scale": {"domain": [-50, 700], "nice": false, "zero": false}, "axis": null},
            "y": {"field": "y2", "type": "quantitative", "scale": {"domain": [0.9, 1.2], "nice": false, "zero": false}, "axis": null},
            "angle": {"field": "heading", "type": "quantitative", "scale": null}}}
         ],
         "resolve": {"scale": {"color": "independent"}, "axis": {"x": "independent", "y": "independent"}}
        },
        {"data": {"name": "mm"}, "mark": {"type": "point", "opacity": 0},
         "encoding": {"x": {"field": "mM", "type": "quantitative", "scale": {"domain": [-5.9, 64.9], "nice": false, "zero": false}, "axis": {"orient": "top", "values": [0, 25, 50], "labelPadding": 12, "title": null}}}}
       ],
       "resolve": {"scale": {"x": "independent"}}
      },
      {
       "width": 262, "height": 315,
       "view": {"stroke": null},
       "layer": [
        {
         "layer": [
          {"data": {"name": "curves"}, "transform": [{"filter": "datum.p === 'd'"}],
           "mark": {"type": "line", "interpolate": "catmull-rom", "strokeWidth": 3.2},
           "encoding": {"x": {"field": "x", "type": "quantitative", "scale": {"domain": [-50, 672.4], "nice": false, "zero": false}, "axis": {"values": [0, 200, 400, 600], "labelPadding": 9, "title": null, "domain": true, "domainWidth": 2, "domainColor": "#000000"}},
            "y": {"field": "y", "type": "quantitative", "scale": {"domain": [0.9, 1.2], "nice": false, "zero": false}, "axis": {"values": [0.9, 0.95, 1.0, 1.05, 1.1, 1.15, 1.2], "labels": false, "title": null, "domain": true, "domainWidth": 2, "domainColor": "#000000"}},
            "order": {"field": "i", "type": "quantitative"},
            "color": {"field": "s", "type": "nominal", "scale": {"domain": ["480mM", "960mM", "200mM", "0mM"], "range": ["#19d219", "#1565e8", "#ff7f0e", "#f01010"]}, "legend": null}}},
          {"data": {"name": "points"}, "transform": [{"filter": "datum.p === 'd'"}],
           "mark": {"type": "circle", "size": 115, "opacity": 1},
           "encoding": {"x": {"field": "x", "type": "quantitative", "scale": {"domain": [-50, 672.4], "nice": false, "zero": false}, "axis": null},
            "y": {"field": "y", "type": "quantitative", "scale": {"domain": [0.9, 1.2], "nice": false, "zero": false}, "axis": null},
            "color": {"field": "s", "type": "nominal", "scale": {"domain": ["480mM", "960mM", "200mM", "0mM"], "range": ["#3fc83f", "#1f77b4", "#ff7f0e", "#f01010"]}, "legend": null}}},
          {"data": {"name": "labels"}, "transform": [{"filter": "datum.p === 'd'"}],
           "mark": {"type": "text", "fontSize": 18},
           "encoding": {"x": {"field": "x", "type": "quantitative", "scale": {"domain": [-50, 672.4], "nice": false, "zero": false}, "axis": null},
            "y": {"field": "y", "type": "quantitative", "scale": {"domain": [0.9, 1.2], "nice": false, "zero": false}, "axis": null},
            "text": {"field": "t", "type": "nominal"},
            "color": {"field": "s", "type": "nominal", "scale": {"domain": ["480mM", "960mM", "200mM", "0mM", "NaCl"], "range": ["#1ed81e", "#1a6cf0", "#ff8414", "#f01010", "#000000"]}, "legend": null}}},
          {"data": {"name": "arrows"}, "transform": [{"filter": "datum.p === 'd'"}],
           "mark": {"type": "rule", "strokeWidth": 1.2, "color": "#000000"},
           "encoding": {"x": {"field": "x", "type": "quantitative", "scale": {"domain": [-50, 672.4], "nice": false, "zero": false}, "axis": null},
            "y": {"field": "y", "type": "quantitative", "scale": {"domain": [0.9, 1.2], "nice": false, "zero": false}, "axis": null},
            "x2": {"field": "x2"}, "y2": {"field": "y2"}}},
          {"data": {"name": "arrows"}, "transform": [{"filter": "datum.p === 'd'"}],
           "mark": {"type": "point", "shape": "triangle-up", "filled": true, "size": 40, "color": "#000000", "opacity": 1},
           "encoding": {"x": {"field": "x2", "type": "quantitative", "scale": {"domain": [-50, 672.4], "nice": false, "zero": false}, "axis": null},
            "y": {"field": "y2", "type": "quantitative", "scale": {"domain": [0.9, 1.2], "nice": false, "zero": false}, "axis": null},
            "angle": {"field": "heading", "type": "quantitative", "scale": null}}}
         ],
         "resolve": {"scale": {"color": "independent"}, "axis": {"x": "independent", "y": "independent"}}
        },
        {"data": {"name": "mm"}, "mark": {"type": "point", "opacity": 0},
         "encoding": {"x": {"field": "mM", "type": "quantitative", "scale": {"domain": [-5.9, 62.3], "nice": false, "zero": false}, "axis": {"orient": "top", "values": [0, 25, 50], "labelPadding": 12, "title": null, "domain": true, "domainWidth": 2, "domainColor": "#000000"}}}}
       ],
       "resolve": {"scale": {"x": "independent"}}
      }
     ]
    }
   ]
  }
 ]
}
